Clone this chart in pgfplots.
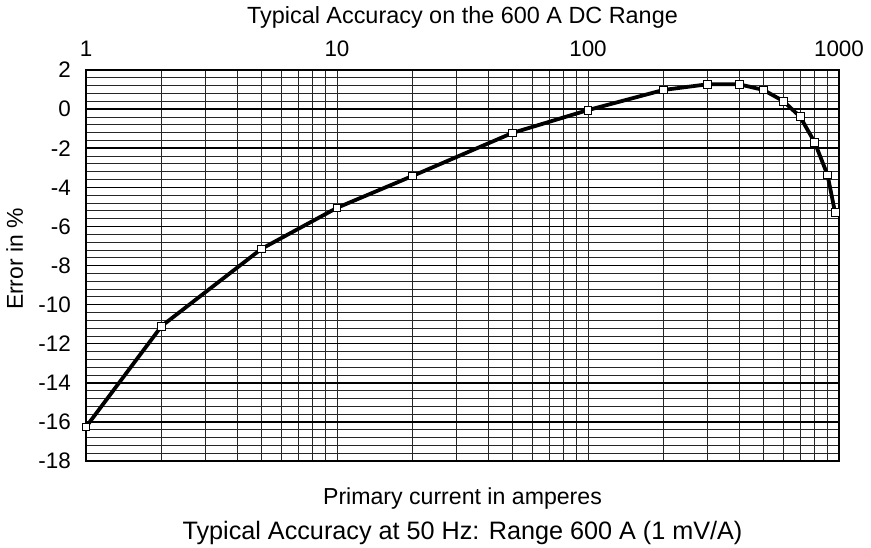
\documentclass[border=0pt]{standalone}
\usepackage{pgfplots}
\pgfplotsset{compat=1.18}
\usepackage{fontspec}
\setmainfont{Liberation Sans}
\newcommand{\tf}{\fontsize{22.5}{22.5}\selectfont}
\begin{document}
\begin{tikzpicture}
\begin{axis}[
  xmode=log,
  scale only axis,
  width=753bp, height=391bp,
  xmin=1, xmax=1000,
  ymin=-18, ymax=2,
  xtick={1,10,100,1000},
  xticklabels={1,10,100,1000},
  minor xtick={2,3,4,5,6,7,8,9,10,20,30,40,50,60,70,80,90,100,200,300,400,500,600,700,800,900},
  xticklabel pos=upper,
  ytick={-18,-16,...,2},
  minor y tick num=4,
  xmajorgrids=false, xminorgrids=true,
  ymajorgrids=true, yminorgrids=true,
  major grid style={black, line width=1.6pt},
  minor grid style={black!85, line width=0.7pt},
  major tick length=0pt, minor tick length=0pt,
  axis line style={black, line width=2pt},
  tick label style={font=\tf},
  xticklabel style={anchor=base, inner sep=0pt, yshift=13bp},
  yticklabel style={anchor=east, inner sep=0pt, xshift=-15bp},
  /pgf/number format/assume math mode=true,
  clip=false,
]
\addplot[black, line width=3.8pt, mark=square*, mark options={fill=white, draw=black, line width=0.8pt}, mark size=3.9pt]
  coordinates {
  (1,-16.26) (2,-11.1) (5,-7.15) (10,-5.05) (20,-3.42) (50,-1.22) (100,-0.05)
  (200,0.98) (300,1.27) (400,1.27) (500,0.98) (600,0.41) (700,-0.39)
  (800,-1.70) (900,-3.37) (965,-5.30)
  };
\node[font=\fontsize{23.5}{23.5}\selectfont, anchor=base] at (rel axis cs:0.5,1) [yshift=46bp] {Typical Accuracy on the 600 A DC Range};
\node[font=\fontsize{23.2}{23.2}\selectfont, anchor=base] at (rel axis cs:0.5,0) [yshift=-43bp] {Primary current in amperes};
\node[font=\fontsize{25.3}{25.3}\selectfont, anchor=base] at (rel axis cs:0.5,0) [yshift=-78bp] {Typical Accuracy at 50 Hz: Range 600 A (1 mV/A)};
\end{axis}
\node[font=\fontsize{23}{23}\selectfont, anchor=base, rotate=90] at (-63bp,202bp) {Error in \%};
\pgfresetboundingbox
\useasboundingbox (-86bp,-87bp) rectangle (785bp,461bp);
\end{tikzpicture}
\end{document}
